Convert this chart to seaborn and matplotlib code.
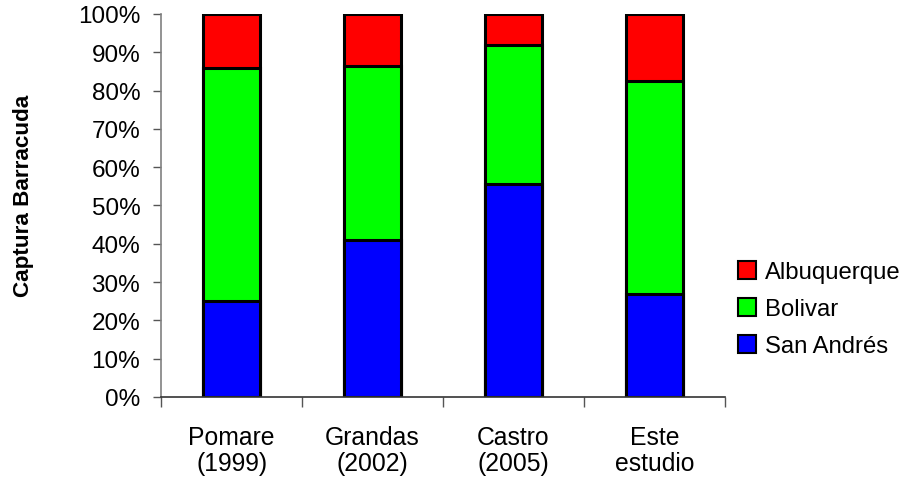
import matplotlib
matplotlib.use("Agg")
import matplotlib.pyplot as plt
import seaborn as sns
import pandas as pd
import numpy as np
from matplotlib.patches import Patch

# Shares of barracuda catch (%) by department, per study
studies = ["Pomare\n(1999)", "Grandas\n(2002)", "Castro\n(2005)", "Este\nestudio"]
san_andres = [25.0, 41.0, 55.5, 27.0]
bolivar = [61.0, 45.3, 36.5, 55.6]
albuquerque = [14.0, 13.7, 8.0, 17.4]

series_names = ["San Andrés", "Bolivar", "Albuquerque"]
series_colors = ["#0000FF", "#00FF00", "#FF0000"]
y_ticks = list(range(0, 101, 10))

sns.set_style("ticks")
plt.rcParams["font.family"] = ["Liberation Sans", "DejaVu Sans"]
plt.rcParams["text.color"] = "black"
plt.rcParams["xtick.labelcolor"] = "black"
plt.rcParams["ytick.labelcolor"] = "black"

FS = 17.5

fig = plt.figure(figsize=(9.05, 4.81), dpi=100)
ax = fig.add_axes([0.178, 0.1726, 0.623, 0.7964])

df = pd.DataFrame({
    "study": studies,
    "San Andrés": san_andres,
    "Bolivar": bolivar,
    "Albuquerque": albuquerque,
})
# cumulative tops, drawn from the tallest layer down so each stack shows
cum = df[series_names].cumsum(axis=1)
for name, color in reversed(list(zip(series_names, series_colors))):
    sns.barplot(x=df["study"], y=cum[name], color=color, width=0.4,
                edgecolor="black", linewidth=2.2, ax=ax, zorder=2,
                saturation=1)

ax.set_xlim(-0.5, 3.5)
ax.set_ylim(0, 100)
ax.set_yticks(y_ticks)
ax.set_yticklabels([f"{t}%" for t in y_ticks])
ax.set_xlabel("")
ax.set_ylabel("")
fig.text(23 / 905, 1 - 195.5 / 481, "Captura Barracuda", rotation=90,
         ha="center", va="center", fontsize=16.2, fontweight="bold",
         color="black")

ax.set_xticks(range(len(studies)))
ax.set_xticklabels(studies, fontsize=FS + 0.3, linespacing=1.1)
ax.set_xticks(np.arange(-0.5, len(studies), 1.0), minor=True)
ax.tick_params(axis="x", which="major", length=0, pad=20)
ax.tick_params(axis="x", which="minor", length=7, width=1, color="#555555")
ax.tick_params(axis="y", which="major", length=6, width=1, color="#555555",
               labelsize=FS, pad=9)

sns.despine(ax=ax, top=True, right=True)
ax.spines["left"].set_color("#808080")
ax.spines["left"].set_linewidth(1.2)
ax.spines["bottom"].set_color("#333333")
ax.spines["bottom"].set_linewidth(1.2)

handles = [Patch(facecolor=c, edgecolor="black", linewidth=1.5, label=n)
           for n, c in zip(series_names, series_colors)]
handles = handles[::-1]
fig.legend(handles=handles, loc="center left", bbox_to_anchor=(0.8155, 1 - 310 / 481),
           frameon=False, fontsize=FS - 0.3, handlelength=0.76, handleheight=0.76,
           handletextpad=0.35, labelspacing=0.62, borderaxespad=0,
           borderpad=0)

fig.savefig("out.png", dpi=100)
